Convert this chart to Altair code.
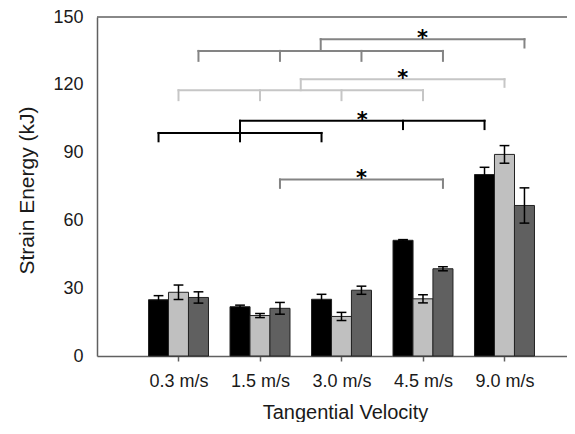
import json
import altair as alt
import pandas as pd

# ---- data ----
velocities = ["0.3 m/s", "1.5 m/s", "3.0 m/s", "4.5 m/s", "9.0 m/s"]
series = ["Black", "Light", "Dark"]

black_vals = [24.9, 21.8, 25.1, 51.2, 80.3]
black_err = [1.8, 0.7, 2.2, 0.3, 3.2]
light_vals = [28.2, 17.9, 17.5, 25.3, 89.2]
light_err = [3.2, 0.9, 1.8, 1.8, 3.9]
dark_vals = [25.9, 21.1, 29.1, 38.6, 66.6]
dark_err = [2.5, 2.6, 1.8, 0.9, 7.8]

# significance brackets (series, from group, to group, value)
bracket_h = [
    ("Dark", 0, 3, 135.0), ("Dark", 1.5, 4, 140.2),
    ("Light", 0, 3, 117.6), ("Light", 1.5, 4, 122.5),
    ("Black", 0, 2, 98.7), ("Black", 1, 4, 104.1),
    ("Dark", 1, 3, 78.1),
]
# (series, group, top value, bottom value)
bracket_v = [
    ("Dark", 0, 135.0, 130.6), ("Dark", 1, 135.0, 130.6), ("Dark", 2, 135.0, 130.6),
    ("Dark", 3, 135.0, 130.6), ("Dark", 1.5, 140.2, 135.0), ("Dark", 4, 140.2, 136.5),
    ("Light", 0, 117.6, 113.2), ("Light", 1, 117.6, 113.2), ("Light", 2, 117.6, 113.2),
    ("Light", 3, 117.6, 113.2), ("Light", 1.5, 122.5, 117.6), ("Light", 4, 122.5, 119.1),
    ("Black", 0, 98.7, 95.0), ("Black", 1, 98.7, 95.0), ("Black", 2, 98.7, 95.0),
    ("Black", 1, 104.1, 98.7), ("Black", 3, 104.1, 100.4), ("Black", 4, 104.1, 100.4),
    ("Dark", 1, 78.1, 74.4), ("Dark", 3, 78.1, 74.4),
]
# (series, group, value)
stars = [("Dark", 2.75, 140.2), ("Light", 2.75, 122.5), ("Black", 2.5, 104.1), ("Dark", 2, 78.1)]

# ---- styling / layout ----
bar_colors = {"Black": "#000000", "Light": "#c0c0c0", "Dark": "#606060"}
bracket_colors = {"Black": "#000000", "Light": "#c6c6c6", "Dark": "#848484"}
offsets = {"Black": -0.245, "Light": 0.0, "Dark": 0.245}
half_bar = 0.123
cap = 0.06
axis_gray = "#606060"
FONT = "Liberation Sans, Arial, sans-serif"

vals = {"Black": black_vals, "Light": light_vals, "Dark": dark_vals}
errs = {"Black": black_err, "Light": light_err, "Dark": dark_err}

rows = []
for s in series:
    for i, v in enumerate(velocities):
        c = i + offsets[s]
        rows.append(dict(series=s, velocity=v, xc=c, x0=c - half_bar, x1=c + half_bar,
                         cl=c - cap, cr=c + cap,
                         value=vals[s][i], lo=vals[s][i] - errs[s][i], hi=vals[s][i] + errs[s][i],
                         color=bar_colors[s]))
bars_df = pd.DataFrame(rows)

h_df = pd.DataFrame([dict(x0=a + offsets[s], x1=b + offsets[s], y=y, color=bracket_colors[s])
                     for s, a, b, y in bracket_h])
v_df = pd.DataFrame([dict(x=g + offsets[s], y0=t, y1=bt, color=bracket_colors[s])
                     for s, g, t, bt in bracket_v])
st_df = pd.DataFrame([dict(x=g + offsets[s], y=y) for s, g, y in stars])

xscale = alt.Scale(domain=[-1, 4.767], nice=False, zero=False)
yscale = alt.Scale(domain=[0, 150], nice=False)

label_expr = json.dumps(velocities) + "[datum.value]"

x_axis = alt.Axis(values=[0, 1, 2, 3, 4], labelExpr=label_expr, grid=False,
                  tickSize=5, tickColor=axis_gray, tickWidth=1.5,
                  domainColor=axis_gray, domainWidth=1.5,
                  labelFont=FONT, labelFontSize=18, labelColor="#1a1a1a", labelPadding=11,
                  title="Tangential Velocity", titleFont=FONT, titleFontSize=20,
                  titleFontWeight="normal",
                  titleColor="#1a1a1a", titleX=248, titleY=62, titleBaseline="alphabetic")
y_axis = alt.Axis(values=[0, 30, 60, 90, 120, 150], grid=False, ticks=False,
                  domainColor=axis_gray, domainWidth=1.5,
                  labelFont=FONT, labelFontSize=18, labelColor="#1a1a1a", labelPadding=14,
                  title="Strain Energy (kJ)", titleFont=FONT, titleFontSize=21,
                  titleFontWeight="normal",
                  titleColor="#1a1a1a", titleX=-70, titleY=173, titleAngle=270,
                  titleBaseline="middle", titleAlign="center")


def X(field):
    return alt.X(field, type="quantitative", scale=xscale, axis=x_axis)


def Y(field):
    return alt.Y(field, type="quantitative", scale=yscale, axis=y_axis)


bars = alt.Chart(bars_df).mark_bar(stroke="#222222", strokeWidth=1).encode(
    x=X("x0"), x2="x1", y=Y("value"), y2=alt.datum(0),
    color=alt.Color("color:N", scale=None),
)
err_v = alt.Chart(bars_df).mark_rule(color="#000000", strokeWidth=1.5).encode(
    x=X("xc"), y=Y("lo"), y2="hi",
)
err_top = alt.Chart(bars_df).mark_rule(color="#000000", strokeWidth=1.5).encode(
    x=X("cl"), x2="cr", y=Y("hi"),
)
err_bot = alt.Chart(bars_df).mark_rule(color="#000000", strokeWidth=1.5).encode(
    x=X("cl"), x2="cr", y=Y("lo"),
)
top_line = alt.Chart(pd.DataFrame({"y": [150]})).mark_rule(color=axis_gray, strokeWidth=1.5).encode(
    y=Y("y"),
)
br_h = alt.Chart(h_df).mark_rule(strokeWidth=2, strokeCap="square").encode(
    x=X("x0"), x2="x1", y=Y("y"),
    color=alt.Color("color:N", scale=None),
)
br_v = alt.Chart(v_df).mark_rule(strokeWidth=2, strokeCap="square").encode(
    x=X("x"), y=Y("y0"), y2="y1",
    color=alt.Color("color:N", scale=None),
)
star_txt = alt.Chart(st_df).mark_text(text="*", font="DejaVu Sans", fontSize=21, fontWeight="bold",
                                       baseline="alphabetic", dy=6, color="#000000").encode(
    x=X("x"), y=Y("y"),
)

chart = alt.layer(bars, err_v, err_top, err_bot, top_line, br_h, br_v, star_txt).properties(
    width=470, height=339,
    padding={"left": 89, "top": 9, "right": 0, "bottom": 66},
    autosize=alt.AutoSizeParams(type="none"),
).configure(font=FONT).configure_view(stroke=None)

chart.save("out.html", embed_options={"renderer": "svg", "actions": False})
